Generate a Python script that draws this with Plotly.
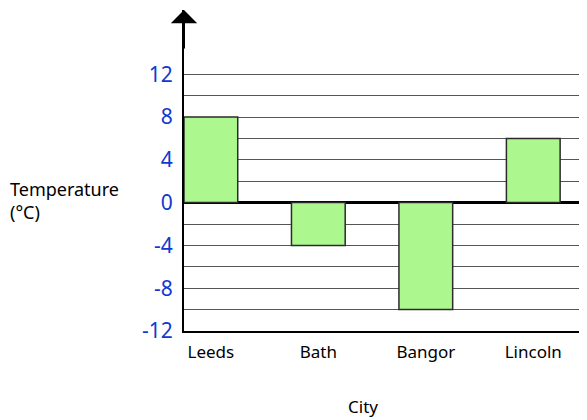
import plotly.graph_objects as go

cities = ["Leeds", "Bath", "Bangor", "Lincoln"]
temps = [8, -4, -10, 6]
grid_vals = [-12, -10, -8, -6, -4, -2, 0, 2, 4, 6, 8, 10, 12]
label_vals = [-12, -8, -4, 0, 4, 8, 12]

tick_text = [str(v) if v in label_vals else "" for v in grid_vals]

FONT = "Noto Sans"

fig = go.Figure()
fig.add_trace(go.Bar(
    x=cities, y=temps, width=0.5,
    marker=dict(color="#adf78f", line=dict(color="#2b2b2b", width=1.5)),
    showlegend=False,
))

fig.update_layout(
    width=579, height=412,
    margin=dict(l=176, r=0, t=2, b=89),
    paper_bgcolor="white", plot_bgcolor="white",
    font=dict(family=FONT, color="black"),
    xaxis=dict(
        range=[-0.25, 3.5], showgrid=False, showline=True,
        linecolor="black", linewidth=2, ticks="outside", ticklen=5,
        tickcolor="rgba(0,0,0,0)", tickfont=dict(size=17, color="black"),
        zeroline=False,
    ),
    yaxis=dict(
        range=[-12, 18], tickvals=grid_vals, ticktext=tick_text,
        showgrid=True, gridcolor="#555555", gridwidth=1,
        showline=True, linecolor="black", linewidth=2,
        zeroline=True, zerolinecolor="black", zerolinewidth=2.5,
        ticks="outside", ticklen=5, tickcolor="rgba(0,0,0,0)",
        tickfont=dict(size=21, color="#1238d0"),
    ),
    annotations=[
        dict(xref="paper", yref="y", x=0, y=18, axref="pixel", ayref="pixel",
             ax=0, ay=40, showarrow=True, arrowhead=1, arrowsize=2.2,
             arrowwidth=2, arrowcolor="black", text=""),
        dict(xref="paper", yref="y", x=-0.437, y=0.2, xanchor="left",
             yanchor="middle", align="left", showarrow=False,
             text="Temperature<br>(°C)", font=dict(size=18, color="black")),
        dict(xref="paper", yref="paper", x=0.445, y=-0.235, xanchor="center",
             yanchor="middle", showarrow=False, text="City",
             font=dict(size=17, color="black")),
    ],
)

fig.write_html("out.html")
